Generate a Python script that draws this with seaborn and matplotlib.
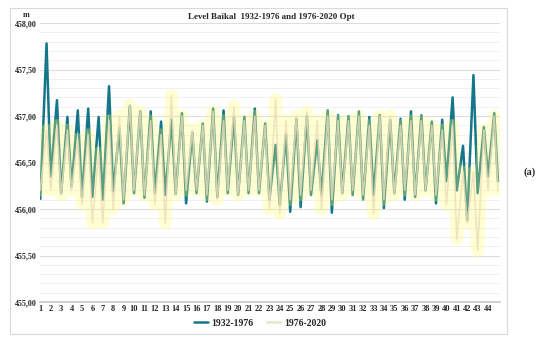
import numpy as np
import pandas as pd
import matplotlib
matplotlib.use("Agg")
import matplotlib.pyplot as plt
from matplotlib.patches import Rectangle
from matplotlib.lines import Line2D
import seaborn as sns

# Niveaux annuels (m) : minimum de printemps et maximum d'automne
years = list(range(1, 45))

teal_low = [456.11, 456.35, 456.17, 456.24, 456.13, 456.13, 456.10, 456.19, 456.06, 456.17,
            456.12, 456.17, 456.15, 456.16, 456.06, 456.17, 456.08, 456.13, 456.17, 456.15,
            456.17, 456.17, 456.10, 456.04, 455.97, 456.02, 456.15, 456.15, 455.96, 456.17,
            456.15, 456.10, 456.15, 456.01, 456.17, 456.10, 456.13, 456.20, 456.06, 456.30,
            456.20, 455.88, 456.17, 456.35, 456.30]
teal_high = [457.78, 457.17, 456.99, 457.06, 457.08, 456.99, 457.32, 456.87, 457.11, 457.05,
             457.05, 456.94, 456.96, 457.03, 456.82, 456.92, 457.08, 457.06, 456.99, 456.99,
             457.08, 456.92, 456.69, 456.80, 456.97, 457.00, 456.74, 457.06, 457.01, 457.00,
             457.05, 456.99, 457.01, 456.96, 456.97, 457.05, 457.01, 456.94, 456.96, 457.20,
             456.68, 457.44, 456.88, 457.03]

yellow_low = [456.20, 456.20, 456.15, 456.20, 456.05, 455.85, 455.85, 456.00, 456.10, 456.20,
              456.15, 456.05, 455.85, 456.15, 456.20, 456.20, 456.15, 456.10, 456.20, 456.15,
              456.20, 456.20, 456.00, 455.95, 456.10, 456.15, 456.20, 456.00, 456.10, 456.15,
              456.20, 456.15, 455.95, 456.10, 456.15, 456.20, 456.15, 456.20, 456.15, 456.05,
              455.68, 455.85, 455.55, 456.20, 456.20]
yellow_high = [456.85, 456.90, 456.85, 456.75, 456.80, 456.60, 456.95, 457.00, 457.12, 457.05,
               456.95, 456.80, 457.22, 457.00, 456.85, 456.90, 457.05, 456.95, 457.10, 456.95,
               457.00, 456.90, 457.18, 456.95, 457.00, 457.05, 456.95, 457.00, 456.95, 456.95,
               457.00, 456.90, 457.00, 457.00, 456.90, 456.95, 456.95, 456.90, 456.85, 456.90,
               456.40, 456.40, 456.85, 457.00]

y_ticks = [455.0, 455.5, 456.0, 456.5, 457.0, 457.5, 458.0]


def serie(low, high):
    xs, vs = [], []
    for i, y in enumerate(years):
        xs += [y, y + 0.6]
        vs += [low[i], high[i]]
    xs.append(years[-1] + 0.95)
    vs.append(low[-1])
    return pd.DataFrame({"x": xs, "niveau": vs})


df_old = serie(teal_low, teal_high)
df_new = serie(yellow_low, yellow_high)

sns.set_style("white")
plt.rcParams["font.family"] = ["Liberation Serif", "DejaVu Serif"]
plt.rcParams["font.weight"] = "bold"

fig = plt.figure(figsize=(5.5, 3.46), dpi=100)
fig.patches.append(Rectangle((10 / 550, 1 - 334 / 346), 497 / 550, 326 / 346,
                             transform=fig.transFigure, fill=False,
                             edgecolor="#D9D9D9", linewidth=0.8))
ax = fig.add_axes([40 / 550, 1 - 302 / 346, 460 / 550, 279 / 346])

teal = "#15768A"
sns.lineplot(data=df_old, x="x", y="niveau", color=teal, linewidth=1.8, ax=ax, sort=False)
sns.lineplot(data=df_new, x="x", y="niveau", color="#FFFF70", linewidth=9, alpha=0.3,
             ax=ax, sort=False)
sns.lineplot(data=df_new, x="x", y="niveau", color="#EEDDB8", linewidth=1.2, alpha=0.8,
             ax=ax, sort=False)

ax.set_xlim(0.97, 45.15)
ax.set_ylim(455.0, 458.0)
ax.set_yticks(y_ticks)
ax.set_yticklabels([f"{v:.2f}".replace(".", ",") for v in y_ticks], fontsize=5.8)
ax.set_yticks(np.arange(455.0, 458.01, 0.1), minor=True)
ax.set_xticks(years)
ax.set_xticklabels([str(y) for y in years], fontsize=6)
ax.tick_params(axis="both", which="both", length=0, pad=2)
ax.grid(True, axis="y", which="minor", color="#EFEFEF", linewidth=0.6)
ax.grid(True, axis="y", which="major", color="#DCDCDC", linewidth=0.8)
ax.set_axisbelow(True)
for s in ["top", "right", "left"]:
    ax.spines[s].set_visible(False)
ax.spines["bottom"].set_color("#C8C8C8")
ax.spines["bottom"].set_linewidth(1.2)
ax.set_xlabel("")
ax.set_ylabel("")

fig.text(26 / 550, 1 - 15 / 346, "m", fontsize=5.8, ha="center", va="center")
fig.text(271 / 550, 1 - 17 / 346, "Level Baikal  1932-1976 and 1976-2020 Opt",
         fontsize=6.5, ha="center", va="center")
fig.text(530 / 550, 1 - 172 / 346, "(a)", fontsize=7.5, ha="center", va="center")

handles = [Line2D([], [], color=teal, linewidth=1.8),
           Line2D([], [], color="#EBE3C8", linewidth=1.8)]
fig.legend(handles, ["1932-1976", "1976-2020"], loc="center",
           bbox_to_anchor=(260 / 550, 1 - 323 / 346), ncol=2, frameon=False,
           fontsize=7, handlelength=1.5, handletextpad=0.3, columnspacing=1.4)

plt.savefig("out.png", dpi=100, facecolor="white")
